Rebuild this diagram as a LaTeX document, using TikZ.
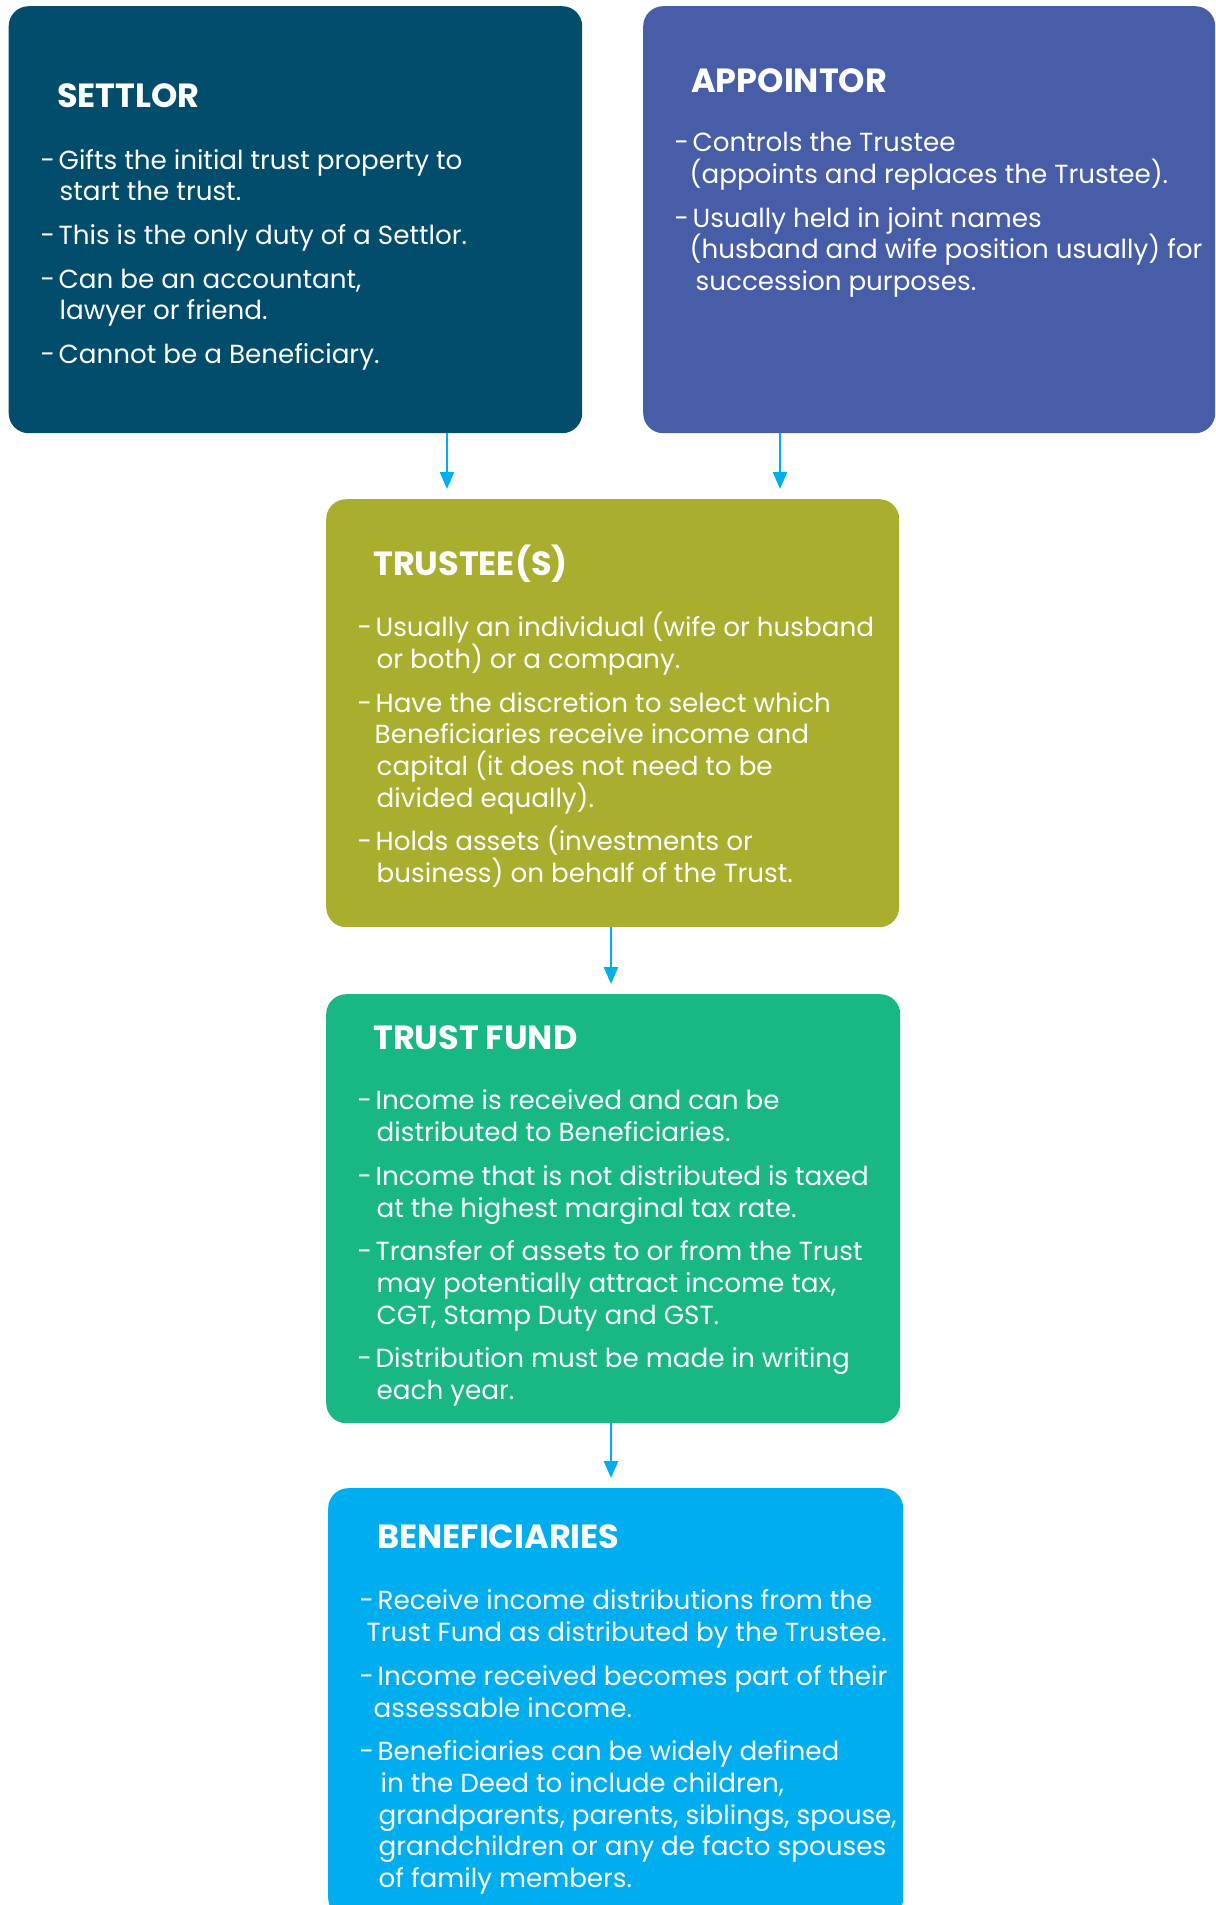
\documentclass[tikz,border=0pt]{standalone}
\usepackage{fontspec}
\setmainfont{Poppins}
\usetikzlibrary{arrows.meta}
\definecolor{cSet}{HTML}{024D6B}
\definecolor{cApp}{HTML}{475DA8}
\definecolor{cTru}{HTML}{A9AE2E}
\definecolor{cFund}{HTML}{18B785}
\definecolor{cBen}{HTML}{00AEEF}
\definecolor{cArr}{HTML}{00AEEF}
\newcommand\ci{\hspace*{19pt}}
\newcommand\dd{-\hspace{3.5pt}}
\tikzset{
  box/.style={rounded corners=20pt, anchor=north west, inner sep=0pt, draw=none},
  ttl/.style={anchor=base west, text=white, inner sep=0pt, font=\fontsize{33.5}{36}\selectfont\bfseries},
  body/.style={anchor=base west, text=white, align=left, inner sep=0pt, font=\fontsize{26.2}{31.7}\selectfont},
  arr/.style={draw=cArr, line width=2.4pt, shorten >=10pt, -{Triangle[width=14pt,length=17pt]}},
}
\begin{document}
\begin{tikzpicture}[x=1pt,y=-1pt]
\useasboundingbox (0,0) rectangle (1215,1905);
\clip (0,0) rectangle (1215,1905);
% boxes
\node[box, fill=cSet, minimum width=573.5pt, minimum height=427pt] (settlor) at (8.5,6) {};
\node[box, fill=cApp, minimum width=572pt, minimum height=427pt] (appointor) at (643,6) {};
\node[box, fill=cTru, minimum width=573pt, minimum height=428pt] (trustee) at (326,499) {};
\node[box, fill=cFund, minimum width=574pt, minimum height=429pt] (fund) at (326,994) {};
\node[box, fill=cBen, minimum width=575pt, minimum height=430pt] (benef) at (328,1488) {};
% titles
\node[ttl] (tset) at (57,107.5) {SETTLOR};
\node[ttl] (tapp) at (691,92.5) {APPOINTOR};
\node[ttl] (ttru) at (373,575.5) {TRUSTEE(S)};
\node[ttl] (tfund) at (373,1049.5) {TRUST FUND};
\node[ttl] (tben) at (377,1548.5) {BENEFICIARIES};
% bodies (anchored at the baseline of their last line)
\node[body] (bset) at (40.5,363.5) {\dd Gifts the initial trust property to\\\ci start the trust.\\[12pt]\dd This is the only duty of a Settlor.\\[12pt]\dd Can be an accountant,\\\ci lawyer or friend.\\[12pt]\dd Cannot be a Beneficiary.};
\node[body] (bapp) at (674.5,290.5) {\dd Controls the Trustee\\\hspace*{15pt}(appoints and replaces the Trustee).\\[12pt]\dd Usually held in joint names\\\hspace*{15pt}(husband and wife position usually) for\\\hspace*{21pt}succession purposes.};
\node[body] (btru) at (357.5,882.5) {\dd Usually an individual (wife or husband\\\ci or both) or a company.\\[12pt]\dd Have the discretion to select which\\\hspace*{17pt}Beneficiaries receive income and\\\ci capital (it does not need to be\\\ci divided equally).\\[12pt]\dd Holds assets (investments or\\\ci business) on behalf of the Trust.};
\node[body] (bfund) at (357.5,1399.5) {\dd Income is received and can be\\\ci distributed to Beneficiaries.\\[12pt]\dd Income that is not distributed is taxed\\\ci at the highest marginal tax rate.\\[12pt]\dd Transfer of assets to or from the Trust\\\ci may potentially attract income tax,\\\ci CGT, Stamp Duty and GST.\\[12pt]\dd Distribution must be made in writing\\\ci each year.};
\node[body] (bben) at (359.5,1887.5) {\dd Receive income distributions from the\\\hspace*{7pt}Trust Fund as distributed by the Trustee.\\[12pt]\dd Income received becomes part of their\\\hspace*{14pt}assessable income.\\[12pt]\dd Beneficiaries can be widely defined\\\hspace*{21pt}in the Deed to include children,\\\ci grandparents, parents, siblings, spouse,\\\ci grandchildren or any de facto spouses\\\ci of family members.};
% connectors
\coordinate (x1) at (447,0);
\coordinate (x2) at (780,0);
\coordinate (x3) at (611,0);
\draw[arr] (settlor.south -| x1) -- (trustee.north -| x1);
\draw[arr] (appointor.south -| x2) -- (trustee.north -| x2);
\draw[arr] (trustee.south -| x3) -- (fund.north -| x3);
\draw[arr] (fund.south -| x3) -- (benef.north -| x3);
\end{tikzpicture}
\end{document}
